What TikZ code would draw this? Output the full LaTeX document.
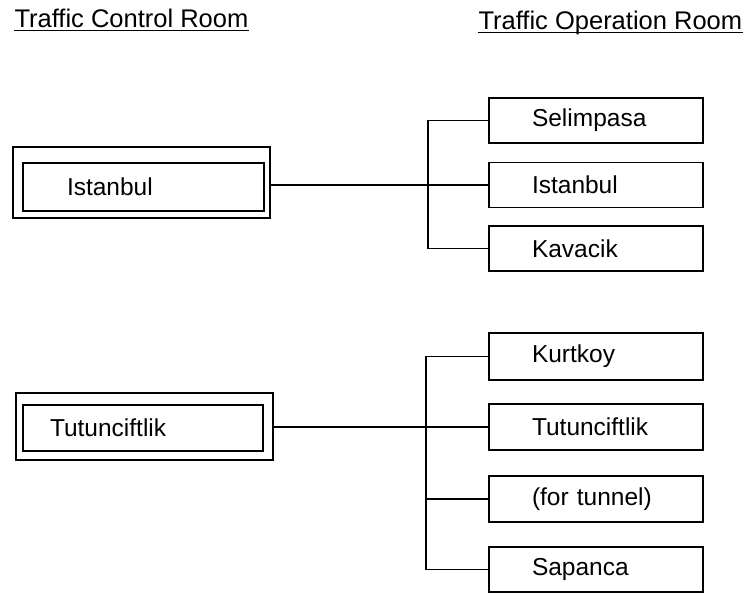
\documentclass[tikz,border=0pt]{standalone}
\usepackage{fontspec}
\setmainfont{Liberation Sans}
\begin{document}
\begin{tikzpicture}[x=1pt,y=-1pt,line width=1.1pt,
  every node/.style={font=\fontsize{24.5}{29}\selectfont},
  heading/.style={anchor=base west,inner sep=0pt,font=\fontsize{25.5}{30}\selectfont},
  rbox/.style={draw,minimum width=214pt,minimum height=45pt,text width=128pt,inner xsep=43pt,inner ysep=0pt,align=left},
  outerbox/.style={draw,inner sep=0pt,line width=1.3pt},
  innerbox/.style={draw,inner ysep=0pt,align=left}]
\useasboundingbox (0,0) rectangle (747,596);

% headings
\node[heading] (hc) at (14,28) {Traffic Control Room};
\node[heading] (ho) at (478,30) {Traffic Operation Room};
\draw ([yshift=-2.5pt]hc.base west) -- ([yshift=-2.5pt]hc.base east);
\draw ([yshift=-2.5pt]ho.base west) -- ([yshift=-2.5pt]ho.base east);

% control rooms
\node[outerbox,minimum width=257pt,minimum height=71pt] (oI) at (141.5,182.5) {};
\node[innerbox,minimum width=241pt,minimum height=48pt,text width=153pt,inner xsep=44pt] (iI) at (143.5,187) {Istanbul};
\node[outerbox,minimum width=257pt,minimum height=67pt] (oT) at (144.5,426.5) {};
\node[innerbox,minimum width=240pt,minimum height=46pt,text width=186pt,inner xsep=27pt] (iT) at (143,428) {Tutunciftlik};

% operation rooms, top group
\node[rbox] (rSel) at (596,120.5) {Selimpasa};
\node[rbox] (rIst) at (596,185) {Istanbul};
\node[rbox] (rKav) at (596,248.5) {Kavacik};

% operation rooms, bottom group
\node[rbox,minimum height=47pt] (rKur) at (596,356.5) {Kurtkoy};
\node[rbox,minimum height=46pt] (rTut) at (596,427) {Tutunciftlik};
\node[rbox,minimum height=46pt] (rTun) at (596,499) {(for tunnel)};
\node[rbox,minimum height=45pt] (rSap) at (596,569.5) {Sapanca};

% buses
\coordinate (bus1) at (428,0);
\coordinate (bus2) at (426,0);

\draw (rSel.west) -- (bus1 |- rSel.west) -- (bus1 |- rKav.west) -- (rKav.west);
\draw (oI.east |- rIst.west) -- (rIst.west);

\draw (rKur.west) -- (bus2 |- rKur.west) -- (bus2 |- rSap.west) -- (rSap.west);
\draw (oT.east |- rTut.west) -- (rTut.west);
\draw (bus2 |- rTun.west) -- (rTun.west);
\end{tikzpicture}
\end{document}
